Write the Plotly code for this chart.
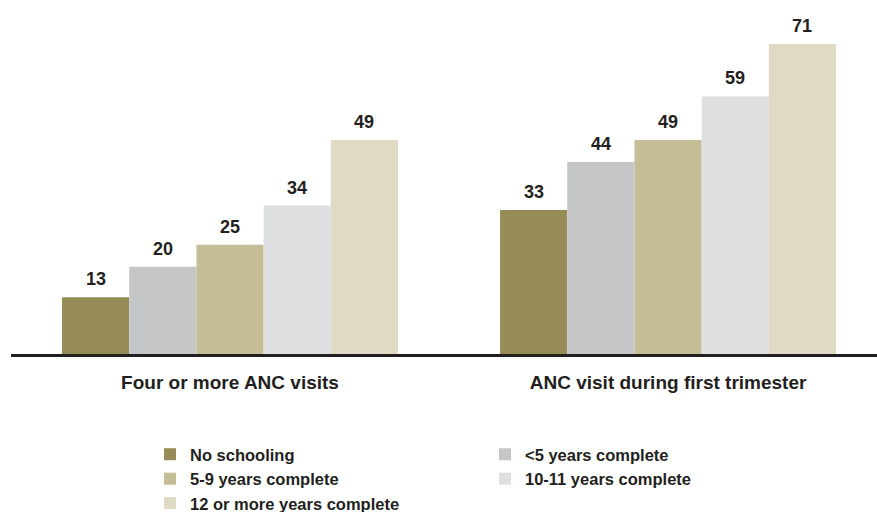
import plotly.graph_objects as go

# Antenatal care indicators by mother's schooling (percent)
categories = ["Four or more ANC visits", "ANC visit during first trimester"]
series_names = [
    "No schooling",
    "<5 years complete",
    "5-9 years complete",
    "10-11 years complete",
    "12 or more years complete",
]
no_schooling = [13, 33]
lt5_years = [20, 44]
y5_9 = [25, 49]
y10_11 = [34, 59]
y12_plus = [49, 71]
series_values = [no_schooling, lt5_years, y5_9, y10_11, y12_plus]
colors = ["#958C56", "#C5C6C8", "#C5BD96", "#DEDFE1", "#DFDAC3"]

W, H = 877, 512
margin_l, margin_r, margin_t, margin_b = 11, 0, 20, 158
plot_w = W - margin_l - margin_r
x_range = [-0.5, 1.477]
px_per_cat = plot_w / (x_range[1] - x_range[0])
bargap = 0.233
bar_px = px_per_cat * (1 - bargap) / len(series_names)

text_color = "#231F20"
font_family = "Liberation Sans, Arial, sans-serif"

fig = go.Figure()
for name, vals, col in zip(series_names, series_values, colors):
    fig.add_trace(go.Bar(
        x=categories, y=vals, name=f"<b>{name}</b>",
        marker=dict(color=col, line=dict(width=0)),
        hoverinfo="skip",
    ))

# value labels above each bar
n = len(series_names)
for i, vals in enumerate(series_values):
    for cat, v in zip(categories, vals):
        fig.add_annotation(
            x=cat, y=v, text=f"<b>{v}</b>", showarrow=False,
            xref="x", yref="y", yanchor="bottom",
            xshift=(i - (n - 1) / 2) * bar_px, yshift=6,
            font=dict(size=18, color=text_color, family=font_family),
        )

fig.update_layout(
    width=W, height=H,
    margin=dict(l=margin_l, r=margin_r, t=margin_t, b=margin_b, pad=0, autoexpand=False),
    barmode="group", bargap=bargap, bargroupgap=0,
    plot_bgcolor="white", paper_bgcolor="white",
    font=dict(family=font_family, color=text_color),
    showlegend=True,
    legend=dict(
        orientation="h",
        xref="container", x=150 / W, xanchor="left",
        yref="container", y=1 - 437 / H, yanchor="top",
        entrywidth=290, entrywidthmode="pixels",
        font=dict(size=16.5, color=text_color, family=font_family),
        itemclick=False, itemdoubleclick=False,
        traceorder="normal",
    ),
)
fig.update_xaxes(
    range=x_range, showline=True, linecolor="#231F20", linewidth=2.5,
    showgrid=False, zeroline=False, ticks="", ticklabelstandoff=9,
    tickmode="array", tickvals=categories,
    ticktext=[f"<b>{c}</b>" for c in categories],
    tickfont=dict(size=19, color=text_color, family=font_family),
)
fig.update_yaxes(range=[0, 76.5], visible=False, showgrid=False, zeroline=False)

fig.write_html("out.html")
